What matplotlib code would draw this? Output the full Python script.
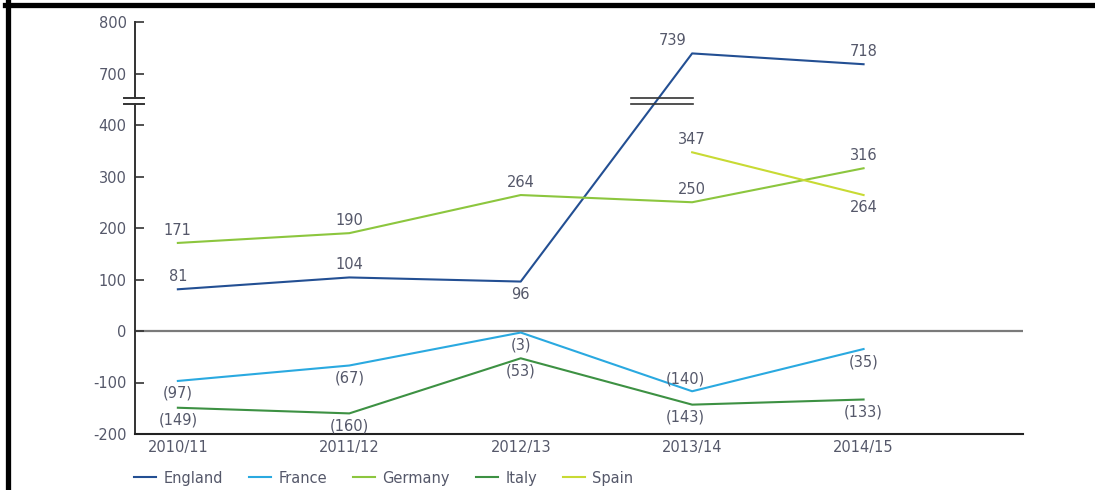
import numpy as np
import matplotlib
matplotlib.use("Agg")
import matplotlib.pyplot as plt
from matplotlib.lines import Line2D
import matplotlib.transforms as mtransforms

seasons = ["2010/11", "2011/12", "2012/13", "2013/14", "2014/15"]

england = [81, 104, 96, 739, 718]
france = [-97, -67, -3, -117, -35]
germany = [171, 190, 264, 250, 316]
italy = [-149, -160, -53, -143, -133]
spain = [np.nan, np.nan, np.nan, 347, 264]

england_labels = ["81", "104", "96", "739", "718"]
france_labels = ["(97)", "(67)", "(3)", "(140)", "(35)"]
germany_labels = ["171", "190", "264", "250", "316"]
italy_labels = ["(149)", "(160)", "(53)", "(143)", "(133)"]
spain_labels = ["", "", "", "347", "264"]

y_ticks = [-200, -100, 0, 100, 200, 300, 400, 700, 800]

# label placement: +1 above the point, -1 below
england_side = [1, 1, -1, 1, 1]
france_side = [-1, -1, -1, 1, -1]
germany_side = [1, 1, 1, 1, 1]
italy_side = [-1, -1, -1, -1, -1]
spain_side = [0, 0, 0, 1, -1]

colors = {
    "England": "#234f93",
    "France": "#2aa9e0",
    "Germany": "#8cc63e",
    "Italy": "#3d9143",
    "Spain": "#c8da34",
}
text_color = "#55586a"

# broken axis: 400..700 squeezed into one 100 step
LO, HI = 400.0, 700.0


def forward(v):
    v = np.asarray(v, dtype=float)
    mid = LO + (v - LO) * 100.0 / (HI - LO)
    return np.where(v <= LO, v, np.where(v >= HI, v - (HI - LO) + 100.0, mid))


def inverse(d):
    d = np.asarray(d, dtype=float)
    mid = LO + (d - LO) * (HI - LO) / 100.0
    return np.where(d <= LO, d, np.where(d >= LO + 100.0, d + (HI - LO) - 100.0, mid))


plt.rcParams["font.family"] = ["DejaVu Sans"]
fs = 10.5

fig = plt.figure(figsize=(10.95, 4.9), dpi=100)
ax = fig.add_axes([135 / 1095, 1 - 434 / 490, (1023 - 135) / 1095, (434 - 22) / 490])
ax.set_yscale("function", functions=(forward, inverse))

x = np.arange(len(seasons))
series = [
    ("England", england, england_labels, england_side),
    ("France", france, france_labels, france_side),
    ("Germany", germany, germany_labels, germany_side),
    ("Italy", italy, italy_labels, italy_side),
    ("Spain", spain, spain_labels, spain_side),
]

ax.axhline(0, color="#7a7a7a", lw=1.6, zorder=1)

for name, vals, labels, side in series:
    ax.plot(x, vals, color=colors[name], lw=1.5, label=name, zorder=3)
    for xi, v, lab, s in zip(x, vals, labels, side):
        if not lab:
            continue
        dx = 0
        if name == "England" and xi == 3:
            dx = -14
        elif xi == 3 and name in ("France", "Italy"):
            dx = -5
        ax.annotate(
            lab,
            (xi, v),
            xytext=(dx, 9 * s),
            textcoords="offset points",
            ha="center",
            va="center",
            fontsize=fs,
            color=text_color,
            zorder=4,
        )

ax.set_xlim(-0.25, 4.93)
ax.set_ylim(-200, 800)
ax.set_yticks(y_ticks)
ax.set_yticklabels([str(t) for t in y_ticks])
ax.set_xticks(x)
ax.set_xticklabels(seasons)
ax.tick_params(axis="y", direction="in", length=6.5, width=1.2, color="#333333",
               labelsize=fs, labelcolor=text_color, pad=6)
ax.tick_params(axis="x", length=0, labelsize=fs, labelcolor=text_color, pad=4)

for s in ["top", "right", "left"]:
    ax.spines[s].set_visible(False)
ax.spines["bottom"].set_color("#222222")
ax.spines["bottom"].set_linewidth(1.5)

# left spine drawn in two pieces with the break between
brk = [525, 560]
trans = mtransforms.blended_transform_factory(ax.transAxes, ax.transData)
ax.plot([0, 0], [-200, brk[0]], transform=trans, color="#333333", lw=1.4, clip_on=False)
ax.plot([0, 0], [brk[1], 800], transform=trans, color="#333333", lw=1.4, clip_on=False)
for b in brk:
    ax.plot([-0.0124, 0.0101], [b, b], transform=trans, color="#333333", lw=1.4, clip_on=False)

# break marks across the England line
d2, d3 = forward(england[2]), forward(england[3])
dmid = forward(np.mean(brk))
xc = 2 + (dmid - d2) / (d3 - d2) + 0.03
for b in brk:
    ax.plot([xc - 0.18, xc + 0.18], [b, b], color="#333333", lw=1.2, zorder=5)

fig.legend(
    loc="center left",
    bbox_to_anchor=(121 / 1095, 1 - 478 / 490),
    ncol=5,
    frameon=False,
    fontsize=fs,
    handlelength=1.5,
    handletextpad=0.5,
    columnspacing=1.8,
    labelcolor=text_color,
)

# black frame on the left and top
fig.add_artist(Line2D([7.5 / 1095, 7.5 / 1095], [0, 1], color="black", lw=3.8))
fig.add_artist(Line2D([5 / 1095, 1], [1 - 5.5 / 490, 1 - 5.5 / 490], color="black", lw=3.8))

fig.savefig("out.png", dpi=100)
